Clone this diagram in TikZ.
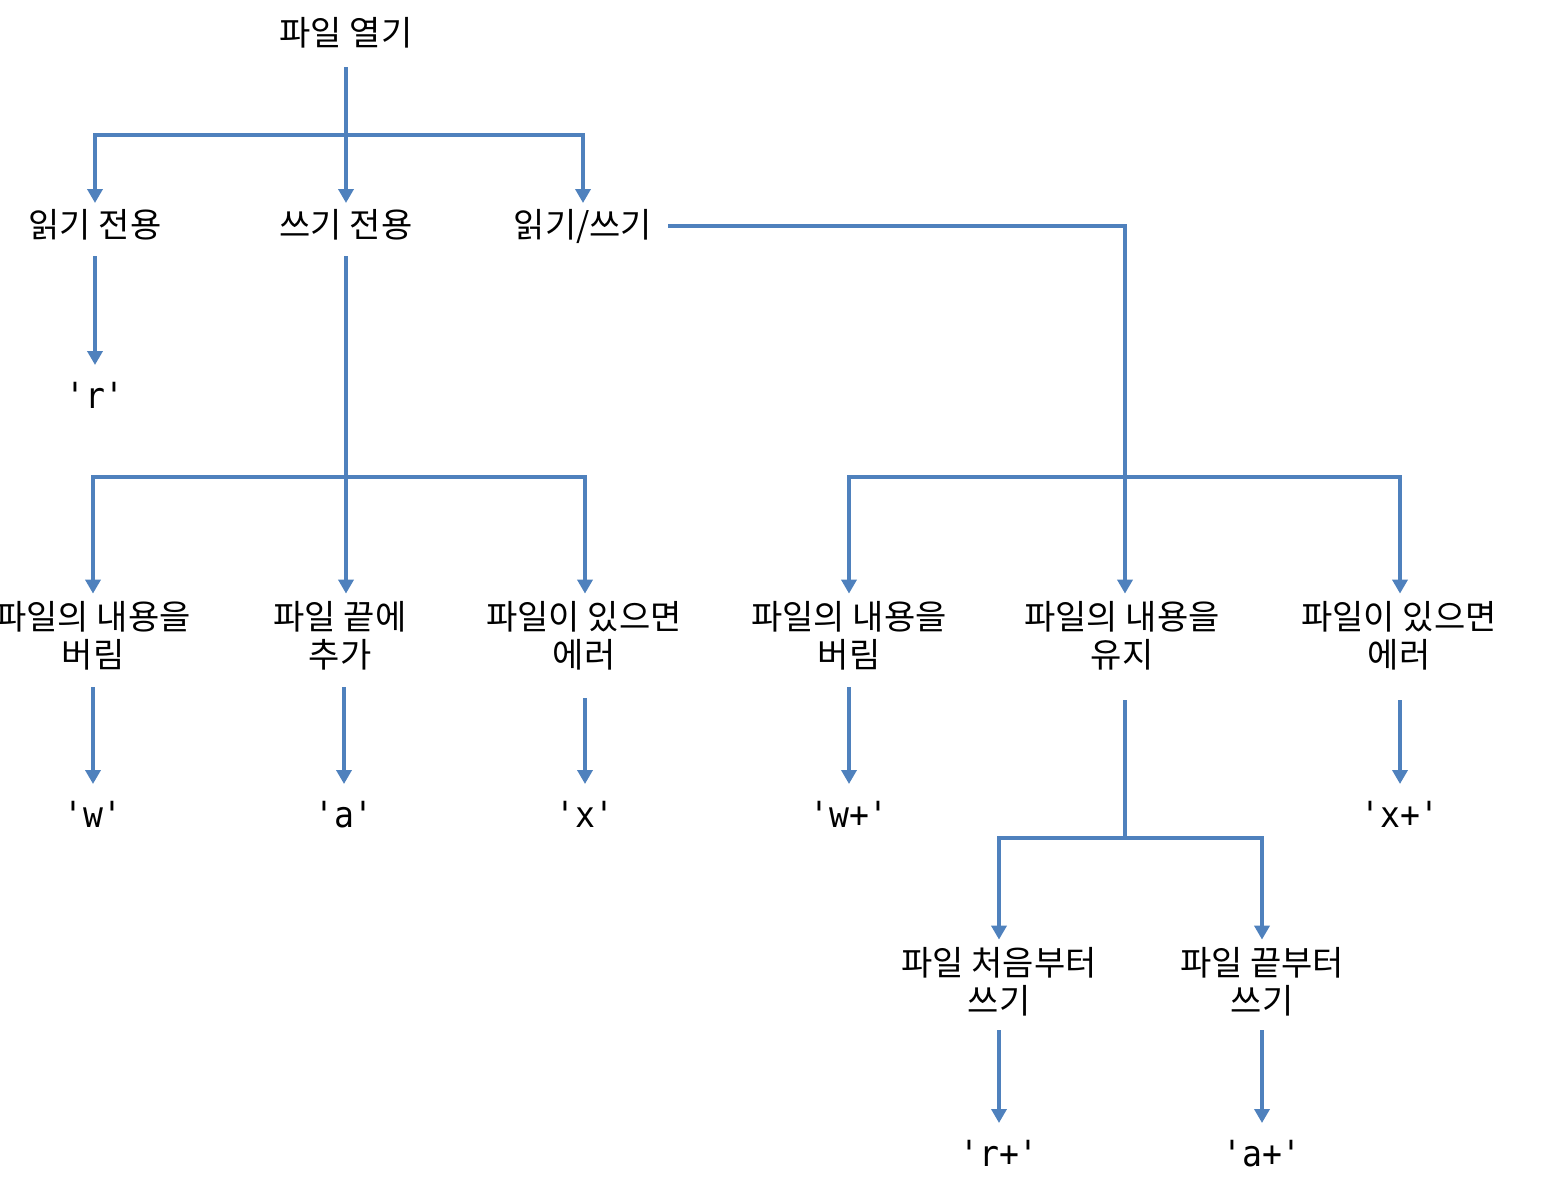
\documentclass[tikz,border=0pt]{standalone}
\usepackage{fontspec}
\newfontfamily\krfont{Noto Sans CJK KR}
\newfontfamily\codefont[FakeStretch=0.92]{DejaVu Sans Mono}
\usetikzlibrary{arrows.meta}
\definecolor{lnblue}{RGB}{79,129,189}
\begin{document}
\begin{tikzpicture}[x=0.5pt,y=-0.5pt,
  lbl/.style={inner sep=0pt, outer sep=0pt, text height=13pt, text depth=2pt,
              font=\krfont\fontsize{17}{19}\selectfont},
  lbltwo/.style={inner sep=0pt, outer sep=0pt, align=center,
              font=\krfont\fontsize{17}{19}\selectfont},
  code/.style={inner sep=0pt, outer sep=0pt, text height=13pt, text depth=2pt,
              font=\codefont\fontsize{18}{19}\selectfont},
  conn/.style={draw=lnblue, line width=1.75pt},
  arr/.style={conn, -{Triangle[width=7.5pt,length=7pt]}, shorten >=4pt},
  arrc/.style={conn, -{Triangle[width=7.5pt,length=7pt]}, shorten >=8.5pt}]
\useasboundingbox (0,0) rectangle (1542,1190);

% nodes
\node[lbl] (root) at (346,34) {파일 열기};
\node[lbl] (ro) at (95,226) {읽기 전용};
\node[lbl] (wo) at (346,226) {쓰기 전용};
\node[lbl] (rw) at (583,226) {읽기/쓰기};
\node[code] (r) at (95,397) {'r'};

\node[lbltwo] (disc1) at (93,636) {파일의 내용을\\버림};
\node[lbltwo] (app) at (340,636) {파일 끝에\\추가};
\node[lbltwo] (err1) at (584,636) {파일이 있으면\\에러};
\node[lbltwo] (disc2) at (849,636) {파일의 내용을\\버림};
\node[lbltwo] (keep) at (1122,636) {파일의 내용을\\유지};
\node[lbltwo] (err2) at (1399,636) {파일이 있으면\\에러};

\node[code] (w) at (93,816) {'w'};
\node[code] (a) at (344,816) {'a'};
\node[code] (x) at (585,816) {'x'};
\node[code] (wp) at (849,816) {'w+'};
\node[code] (xp) at (1400,816) {'x+'};

\node[lbltwo] (start) at (999,982) {파일 처음부터\\쓰기};
\node[lbltwo] (endw) at (1262,982) {파일 끝부터\\쓰기};

\node[code] (rp) at (999,1155) {'r+'};
\node[code] (ap) at (1262,1155) {'a+'};

% junctions
\coordinate (j1) at (346,135);
\coordinate (j2) at (346,477);
\coordinate (j3) at (1125,477);
\coordinate (j4) at (1125,838);

% level 0 -> 1
\draw[conn, shorten <=9pt] (root) -- (j1);
\draw[arr] (j1) -| (ro);
\draw[arr] (j1) -- (wo);
\draw[arr] (j1) -| (rw);

% read only
\draw[arrc, shorten <=7.5pt] (ro) -- (r);

% write only
\draw[conn, shorten <=7.5pt] (wo) -- (j2);
\draw[arr] (j2) -| (disc1);
\draw[arr] (j2) -- (j2 |- app.north);
\draw[arr] (j2) -| (err1.north -| x);
\draw[arrc, shorten <=8.5pt] (disc1) -- (w);
\draw[arrc, shorten <=8.5pt] (a |- app.south) -- (a);
\draw[arrc, shorten <=14pt] (x |- err1.south) -- (x);

% read/write
\draw[conn, shorten <=8pt] (rw) -| (j3);
\draw[arr] (j3) -| (disc2);
\draw[arr] (j3) -- (j3 |- keep.north);
\draw[arr] (j3) -| (err2.north -| xp);
\draw[arrc, shorten <=8.5pt] (disc2) -- (wp);
\draw[arrc, shorten <=15pt] (xp |- err2.south) -- (xp);

% keep
\draw[conn, shorten <=15pt] (j4 |- keep.south) -- (j4);
\draw[arr] (j4) -| (start);
\draw[arr] (j4) -| (endw);
\draw[arrc, shorten <=7pt] (start) -- (rp);
\draw[arrc, shorten <=7pt] (endw) -- (ap);
\end{tikzpicture}
\end{document}
